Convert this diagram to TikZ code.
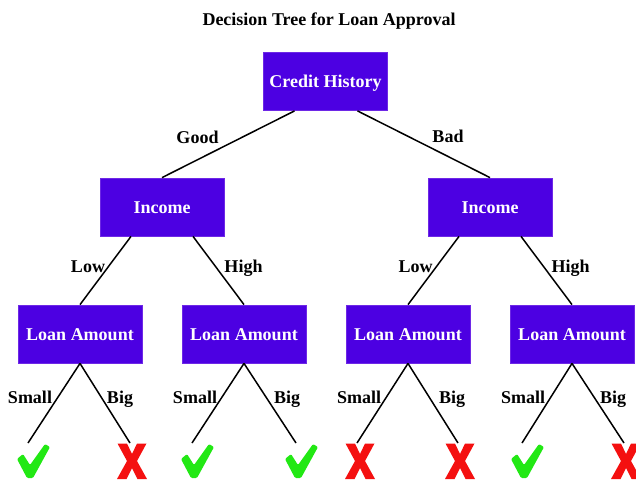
\documentclass[tikz,border=0pt]{standalone}
\usepackage{fontspec}
\setmainfont{Liberation Serif}
\usetikzlibrary{calc}

\definecolor{boxfill}{RGB}{76,0,226}
\definecolor{boxline}{RGB}{110,40,230}
\definecolor{okgreen}{RGB}{34,232,20}
\definecolor{nored}{RGB}{244,16,16}

\tikzset{
  treebox/.style={rectangle, fill=boxfill, draw=boxline, line width=0.8pt,
    minimum width=124pt, minimum height=58pt, inner sep=0pt,
    text height=12pt, text depth=0pt, text=white,
    font=\bfseries\fontsize{18}{20}\selectfont},
  branch/.style={line width=1.5pt, black},
  blabel/.style={anchor=base, inner sep=0pt, font=\bfseries\fontsize{18}{20}\selectfont},
  ttl/.style={anchor=base, inner sep=0pt, font=\bfseries\fontsize{18}{20}\selectfont},
  % green tick, drawn from the end of its branch
  okmark/.pic={
    \fill[okgreen, rounded corners=1.2pt]
      (-11,16) -- (-5,11) -- (2,22) -- (17,1) -- (22,4) -- (5,35) -- (-1,35) -- cycle;
  },
  % heavy red cross, drawn round its centre
  nomark/.pic={
    \fill[nored]
      (-14.5,-18) -- (-5,-18) -- (0,-7.5) -- (5,-18) -- (14.5,-18) -- (5,-0.5)
      -- (15,17.5) -- (5.5,17.5) -- (0,6.5) -- (-5.5,17.5) -- (-15,17.5) -- (-5,-0.5) -- cycle;
  }
}

\begin{document}
\begin{tikzpicture}[x=1pt, y=-1pt]
  \useasboundingbox (0,0) rectangle (636,480);

  % title
  \node[ttl] (title) at (329,25) {Decision Tree for Loan Approval};

  % decision nodes
  \node[treebox] (root) at (325.5,81.5) {Credit History};
  \node[treebox] (incL) at (162,207) {Income};
  \node[treebox] (incR) at (490,207) {Income};
  \node[treebox] (amt1) at (80,334) {Loan Amount};
  \node[treebox] (amt2) at (244,334) {Loan Amount};
  \node[treebox] (amt3) at (408,334) {Loan Amount};
  \node[treebox] (amt4) at (572,334) {Loan Amount};

  % free ends of the last branches
  \coordinate (e1) at (28,443);
  \coordinate (e2) at (130,443);
  \coordinate (e3) at (192,443);
  \coordinate (e4) at (296,443);
  \coordinate (e5) at (357,443);
  \coordinate (e6) at (458,443);
  \coordinate (e7) at (522,443);
  \coordinate (e8) at (624,443);

  % branches
  \draw[branch] ([xshift=-31pt]root.south) -- (incL.north);
  \draw[branch] ([xshift=32pt]root.south) -- (incR.north);
  \draw[branch] ([xshift=-31pt]incL.south) -- (amt1.north);
  \draw[branch] ([xshift=31pt]incL.south) -- (amt2.north);
  \draw[branch] ([xshift=-31pt]incR.south) -- (amt3.north);
  \draw[branch] ([xshift=31pt]incR.south) -- (amt4.north);
  \draw[branch] (amt1.south) -- (e1);
  \draw[branch] (amt1.south) -- (e2);
  \draw[branch] (amt2.south) -- (e3);
  \draw[branch] (amt2.south) -- (e4);
  \draw[branch] (amt3.south) -- (e5);
  \draw[branch] (amt3.south) -- (e6);
  \draw[branch] (amt4.south) -- (e7);
  \draw[branch] (amt4.south) -- (e8);

  % branch labels
  \node[blabel] (lgood) at (197.5,143) {Good};
  \node[blabel] (lbad) at (448,142) {Bad};
  \node[blabel] (llow1) at (88,272) {Low};
  \node[blabel] (lhigh1) at (243.5,272) {High};
  \node[blabel] (llow2) at (415.5,272) {Low};
  \node[blabel] (lhigh2) at (570.5,272) {High};
  \node[blabel] (ls1) at (30,403) {Small};
  \node[blabel] (lb1) at (120,403) {Big};
  \node[blabel] (ls2) at (195,403) {Small};
  \node[blabel] (lb2) at (287,403) {Big};
  \node[blabel] (ls3) at (359,403) {Small};
  \node[blabel] (lb3) at (452,403) {Big};
  \node[blabel] (ls4) at (523,403) {Small};
  \node[blabel] (lb4) at (613,403) {Big};

  % outcomes
  \pic at (e1) {okmark};
  \pic at ($(e2)+(2,18.5)$) {nomark};
  \pic at (e3) {okmark};
  \pic at (e4) {okmark};
  \pic at ($(e5)+(3,18.5)$) {nomark};
  \pic at ($(e6)+(2,18.5)$) {nomark};
  \pic at (e7) {okmark};
  \pic at ($(e8)+(2,18.5)$) {nomark};
\end{tikzpicture}
\end{document}
